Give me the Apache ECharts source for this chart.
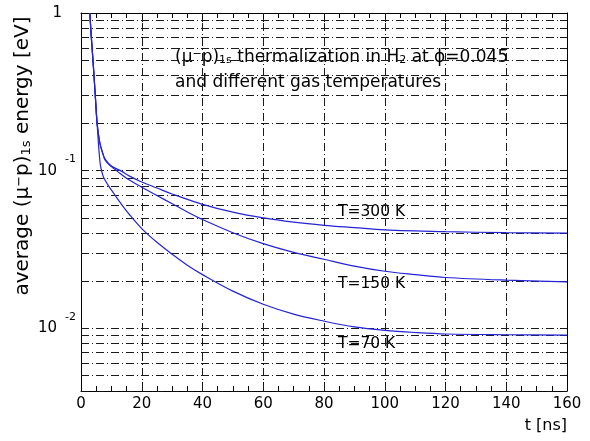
<!DOCTYPE html>
<html>
<head>
<meta charset="utf-8">
<script src="https://cdn.jsdelivr.net/npm/echarts@6/dist/echarts.min.js"></script>
<style>
html,body{margin:0;padding:0;background:#fff;}
#c{width:590px;height:441px;}
</style>
</head>
<body>
<div id="c"></div>
<script>
// ---- data ----
const t300 = [2.9, 3.4, 3.95, 4.7, 5.3, 6.2, 7.2, 8, 10, 13, 16, 20, 25, 30, 40, 50, 60, 70, 80, 90, 100, 120, 140, 160];
const e300 = [1.0, 0.7, 0.5, 0.3, 0.2, 0.15, 0.128, 0.118, 0.107, 0.1, 0.0923, 0.0847, 0.0776, 0.0711, 0.0611, 0.0545, 0.0501, 0.0471, 0.045, 0.0435, 0.0421, 0.041, 0.0404, 0.0401];

const t150 = [2.9, 3.4, 3.95, 4.7, 5.3, 6.2, 7.2, 8, 10, 12, 15, 20, 25, 30, 35, 40, 50, 60, 70, 80, 90, 100, 110, 120, 140, 160];
const e150 = [1.0, 0.7, 0.5, 0.3, 0.2, 0.15, 0.128, 0.116, 0.106, 0.0989, 0.0895, 0.0785, 0.0695, 0.0617, 0.0547, 0.049, 0.0404, 0.0344, 0.0303, 0.0274, 0.0248, 0.023, 0.0219, 0.021, 0.0202, 0.0197];

const t70 = [2.9, 3.4, 3.95, 4.7, 5.3, 5.9, 6.4, 7, 7.5, 9, 11, 13, 16, 20, 25, 30, 35, 40, 50, 60, 70, 80, 90, 100, 110, 120, 140, 160];
const e70 = [1.0, 0.7, 0.5, 0.3, 0.2, 0.135, 0.108, 0.096, 0.09, 0.0804, 0.0708, 0.0624, 0.0525, 0.0429, 0.0351, 0.0295, 0.0251, 0.0219, 0.0172, 0.0142, 0.0123, 0.0111, 0.0102, 0.0097, 0.0094, 0.0092, 0.0091, 0.00906];

const seriesNames = ['T=300 K', 'T=150 K', 'T=70 K'];
const gridY = [0.004,0.005,0.006,0.007,0.008,0.009,0.01,0.02,0.03,0.04,0.05,0.06,0.07,0.08,0.09,0.1,0.2,0.3,0.4,0.5,0.6,0.7,0.8,0.9];
const gridX = [20, 40, 60, 80, 100, 120, 140];
const labelY = [0.01, 0.1, 1];
const xRange = [0, 160];
const yRange = [0.004, 1];

// ---- chart ----
const FONT = 'DejaVu Sans';
const pair = (ts, es) => ts.map((t, i) => [t, es[i]]);
const chart = echarts.init(document.getElementById('c'));

const dash = {type: [8, 3, 1, 3], color: '#1a1a1a', width: 1, opacity: 1};
const yLabelFmt = v => {
  const l = Math.log10(v), r = Math.round(l);
  if (Math.abs(l - r) > 1e-6) return '';
  if (r === 0) return '{one|1}';
  return '{b|10}{s|' + r + '}';
};
const yRich = {
  b: {fontFamily: FONT, fontSize: 15, lineHeight: 34, verticalAlign: 'middle', color: '#000'},
  s: {fontFamily: FONT, fontSize: 11, lineHeight: 12, verticalAlign: 'top', padding: [0, 0, 0, 8], color: '#000'},
  one: {fontFamily: FONT, fontSize: 15, padding: [0, 14, 0, 0], color: '#000'}
};

const curveStyle = {color: '#2424d4', width: 1.2};
const mkCurve = (name, d) => ({
  name, type: 'line', data: d, showSymbol: false, symbol: 'none',
  smooth: 0.35, lineStyle: curveStyle, z: 5,
  animation: false, silent: true
});

const gridLinesData = gridY.map(v => ({coords: [[xRange[0], v], [xRange[1], v]]}))
  .concat(gridX.map(v => ({coords: [[v, yRange[0]], [v, yRange[1]]]})));

const supStyle = {fontFamily: FONT, fontSize: 11, lineHeight: 12, verticalAlign: 'top', color: '#000'};
const subStyle = {fontFamily: FONT, fontSize: 11, lineHeight: 12, verticalAlign: 'bottom', color: '#000'};

const axisCommon = {
  axisLine: {show: true, onZero: false, lineStyle: {color: '#000', width: 1}},
  splitLine: {show: false}
};

chart.setOption({
  animation: false,
  textStyle: {fontFamily: FONT},
  grid: {left: 81, right: 23, top: 13, bottom: 50, containLabel: false},
  xAxis: [Object.assign({
    type: 'value', min: xRange[0], max: xRange[1], interval: 20, position: 'bottom',
    axisTick: {show: true, inside: true, length: 9, lineStyle: {color: '#000'}},
    minorTick: {show: true, splitNumber: 4, length: 5, lineStyle: {color: '#000'}},
    axisLabel: {fontFamily: FONT, fontSize: 15, color: '#000', margin: 6}
  }, axisCommon), Object.assign({
    type: 'value', min: xRange[0], max: xRange[1], interval: 20, position: 'top',
    axisTick: {show: true, inside: true, length: 9, lineStyle: {color: '#000'}},
    minorTick: {show: true, splitNumber: 4, length: 5, lineStyle: {color: '#000'}},
    axisLabel: {show: false}
  }, axisCommon)],
  yAxis: [Object.assign({
    type: 'log', logBase: 10, min: yRange[0], max: yRange[1], position: 'left',
    axisTick: {show: true, inside: true, length: 7, customValues: gridY, lineStyle: {color: '#000'}},
    axisLabel: {customValues: labelY, formatter: yLabelFmt, rich: yRich, margin: 5}
  }, axisCommon), Object.assign({
    type: 'log', logBase: 10, min: yRange[0], max: yRange[1], position: 'right',
    axisTick: {show: true, inside: true, length: 7, customValues: gridY, lineStyle: {color: '#000'}},
    axisLabel: {show: false}
  }, axisCommon)],
  series: [
    {
      type: 'lines', coordinateSystem: 'cartesian2d', xAxisIndex: 0, yAxisIndex: 0,
      data: gridLinesData, lineStyle: dash, z: 1, silent: true, animation: false,
      polyline: false, effect: {show: false}
    },
    mkCurve(seriesNames[0], pair(t300, e300)),
    mkCurve(seriesNames[1], pair(t150, e150)),
    mkCurve(seriesNames[2], pair(t70, e70))
  ],
  graphic: [
    {
      type: 'text', x: 23, y: 156, rotation: Math.PI / 2,
      style: {
        text: 'average (μ{sup|−}p){sub|1s} energy [eV]',
        font: '20px "DejaVu Sans"', fill: '#000', align: 'center', verticalAlign: 'middle',
        rich: {
          sup: {fontFamily: FONT, fontSize: 13, lineHeight: 14, verticalAlign: 'top', padding: [0, 0, 16, 0]},
          sub: {fontFamily: FONT, fontSize: 13, lineHeight: 14, verticalAlign: 'bottom', padding: [18, 0, 0, 0]}
        }
      }
    },
    {
      type: 'text', left: 175, top: 37,
      style: {
        text: '(μ{sup|−}p){sub|1s} thermalization in H{sub|2} at ϕ=0.045',
        font: '17px "DejaVu Sans"', fill: '#000',
        rich: {
          sup: Object.assign({}, supStyle, {padding: [0, 0, 16, 0]}),
          sub: Object.assign({}, subStyle, {padding: [18, 0, 0, 0]})
        }
      }
    },
    {
      type: 'text', left: 175, top: 74,
      style: {text: 'and different gas temperatures', font: '17px "DejaVu Sans"', fill: '#000'}
    },
    {type: 'text', left: 338, top: 204, style: {text: seriesNames[0], font: '15.5px "DejaVu Sans"', fill: '#000'}},
    {type: 'text', left: 338, top: 276, style: {text: seriesNames[1], font: '15.5px "DejaVu Sans"', fill: '#000'}},
    {type: 'text', left: 338, top: 336, style: {text: seriesNames[2], font: '15.5px "DejaVu Sans"', fill: '#000'}},
    {type: 'text', right: 23, top: 418, style: {text: 't [ns]', font: '16px "DejaVu Sans"', fill: '#000'}}
  ]
});
</script>
</body>
</html>
